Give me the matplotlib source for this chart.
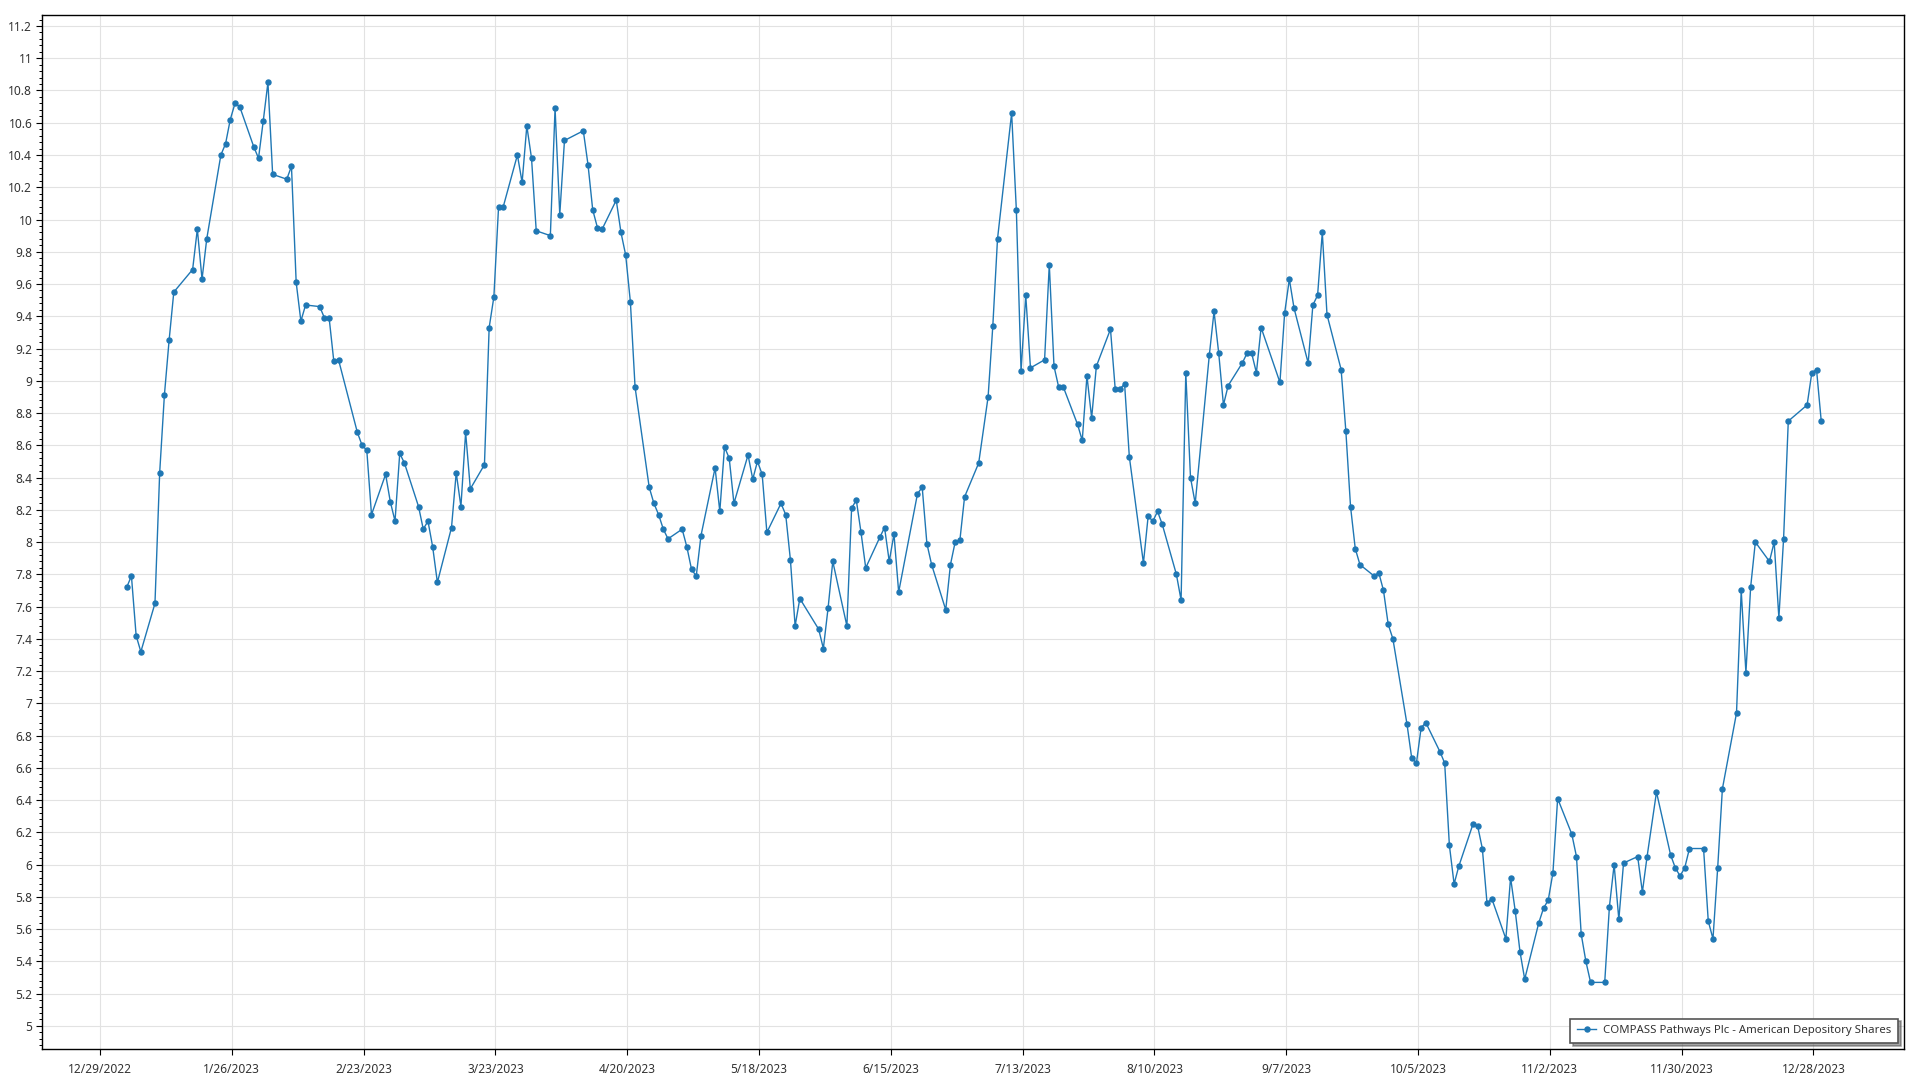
import matplotlib
matplotlib.use("Agg")
import matplotlib.pyplot as plt
from matplotlib.ticker import MultipleLocator, FuncFormatter
import pandas as pd

# NYSE holidays 2023 (non-trading days)
holidays = ["2023-01-02", "2023-01-16", "2023-02-20", "2023-04-07", "2023-05-29",
            "2023-06-19", "2023-07-04", "2023-09-04", "2023-11-23", "2023-12-25"]

series_label = "COMPASS Pathways Plc - American Depository Shares"

# closing prices, one per trading day, month by month
jan = [7.72, 7.79, 7.42, 7.32, 7.62, 8.43, 8.91, 9.25, 9.55, 9.69,
       9.94, 9.63, 9.88, 10.40, 10.47, 10.62, 10.72, 10.70, 10.45, 10.38]
feb = [10.61, 10.85, 10.28, 10.25, 10.33, 9.61, 9.37, 9.47, 9.46, 9.39,
       9.39, 9.12, 9.13, 8.68, 8.60, 8.57, 8.17, 8.42, 8.25]
mar = [8.13, 8.55, 8.49, 8.22, 8.08, 8.13, 7.97, 7.75, 8.09, 8.43, 8.22, 8.68,
       8.33, 8.48, 9.33, 9.52, 10.08, 10.08, 10.40, 10.23, 10.58, 10.38, 9.93]
apr = [9.90, 10.69, 10.03, 10.49, 10.55, 10.34, 10.06, 9.95, 9.94, 10.12,
       9.92, 9.78, 9.49, 8.96, 8.34, 8.24, 8.17, 8.08, 8.02]
may = [8.08, 7.97, 7.83, 7.79, 8.04, 8.46, 8.19, 8.59, 8.52, 8.24, 8.54,
       8.39, 8.50, 8.42, 8.06, 8.24, 8.17, 7.89, 7.48, 7.65, 7.46, 7.34]
jun = [7.59, 7.88, 7.48, 8.21, 8.26, 8.06, 7.84, 8.03, 8.09, 7.88, 8.05,
       7.69, 8.30, 8.34, 7.99, 7.86, 7.58, 7.86, 8.00, 8.01, 8.28]
jul = [8.49, 8.90, 9.34, 9.88, 10.66, 10.06, 9.06, 9.53, 9.08, 9.13,
       9.72, 9.09, 8.96, 8.96, 8.73, 8.63, 9.03, 8.77, 9.09, 9.32]
aug = [8.95, 8.95, 8.98, 8.53, 7.87, 8.16, 8.13, 8.19, 8.11, 7.80, 7.64, 9.05,
       8.40, 8.24, 9.16, 9.43, 9.17, 8.85, 8.97, 9.11, 9.17, 9.17, 9.05]
sep = [9.33, 8.99, 9.42, 9.63, 9.45, 9.11, 9.47, 9.53, 9.92, 9.41,
       9.07, 8.69, 8.22, 7.96, 7.86, 7.79, 7.81, 7.70, 7.49, 7.40]
oct_ = [6.87, 6.66, 6.63, 6.85, 6.88, 6.70, 6.63, 6.12, 5.88, 5.99, 6.25,
        6.24, 6.10, 5.76, 5.79, 5.54, 5.92, 5.71, 5.46, 5.29, 5.64, 5.73]
nov = [5.78, 5.95, 6.41, 6.19, 6.05, 5.57, 5.40, 5.27, 5.27, 5.74, 6.00,
       5.66, 6.01, 6.05, 5.83, 6.05, 6.45, 6.06, 5.98, 5.93, 5.98]
dec = [6.10, 6.10, 5.65, 5.54, 5.98, 6.47, 6.94, 7.70, 7.19, 7.72,
       8.00, 7.88, 8.00, 7.53, 8.02, 8.75, 8.85, 9.05, 9.07, 8.75]

prices = jan + feb + mar + apr + may + jun + jul + aug + sep + oct_ + nov + dec

# trading days, stamped at market close
dates = pd.bdate_range("2023-01-03", "2023-12-29", freq="C", holidays=holidays) + pd.Timedelta(hours=16)

tick_dates = pd.date_range("2022-12-29", "2023-12-28", freq="28D")

line_color = "#1f77b4"
text_color = "#333333"
fonts = ["Noto Sans", "DejaVu Sans"]

fig = plt.figure(figsize=(19.2, 10.8), dpi=100)
ax = fig.add_axes([42 / 1920, 1 - 1049 / 1080, (1904 - 42) / 1920, (1049 - 15) / 1080])

ax.plot(dates, prices, "-o", color=line_color, lw=1.0, ms=3.6, label=series_label, zorder=3)

ax.set_xlim(pd.Timestamp("2022-12-16 16:00"), pd.Timestamp("2024-01-16 06:00"))
ax.set_ylim(4.857, 11.268)

ax.set_xticks(tick_dates)
ax.set_xticklabels([f"{d.month}/{d.day}/{d.year}" for d in tick_dates])

ax.yaxis.set_major_locator(MultipleLocator(0.2))
ax.yaxis.set_minor_locator(MultipleLocator(0.04))
ax.yaxis.set_major_formatter(FuncFormatter(lambda v, p: f"{round(v, 2):g}"))

ax.grid(True, which="major", color="#e2e2e2", lw=0.8, zorder=0)
ax.tick_params(axis="both", which="major", length=4, width=0.8, colors="black",
               labelcolor=text_color, labelsize=8.6)
ax.tick_params(axis="y", which="minor", length=2, width=0.7, colors="black")
ax.tick_params(axis="x", pad=6)
ax.tick_params(axis="y", pad=3)

for s in ax.spines.values():
    s.set_color("black")
    s.set_linewidth(1.0)

for lbl in ax.get_xticklabels() + ax.get_yticklabels():
    lbl.set_fontfamily(fonts)

leg = ax.legend(loc="lower right", fancybox=False, shadow=True, edgecolor="#555555",
                borderaxespad=0.5, handlelength=1.7, borderpad=0.6, handletextpad=0.6,
                prop={"family": fonts, "size": 8.2})
leg.get_frame().set_linewidth(1.2)
for t in leg.get_texts():
    t.set_color(text_color)

fig.savefig("out.png", dpi=100)
